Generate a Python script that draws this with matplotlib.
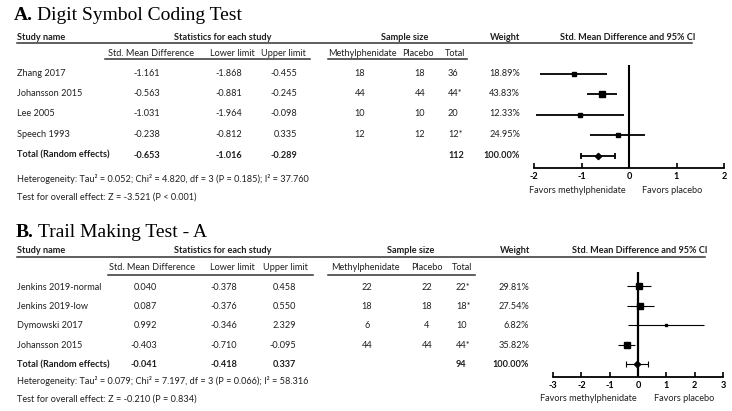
import matplotlib
matplotlib.use("Agg")
import matplotlib.pyplot as plt
import numpy as np

# ---------------- data ----------------
A_title_bold = "A."
A_title = "Digit Symbol Coding Test"
A_studies = ["Zhang 2017", "Johansson 2015", "Lee 2005", "Speech 1993"]
A_smd = [-1.161, -0.563, -1.031, -0.238]
A_lower = [-1.868, -0.881, -1.964, -0.812]
A_upper = [-0.455, -0.245, -0.098, 0.335]
A_methyl = [18, 44, 10, 12]
A_placebo = [18, 44, 10, 12]
A_total = ["36", "44*", "20", "12*"]
A_weight = [18.89, 43.83, 12.33, 24.95]
A_overall = [-0.653, -1.016, -0.289]
A_overall_n = "112"
A_het = "Heterogeneity: Tau\u00b2 = 0.052; Chi\u00b2 = 4.820, df = 3 (P = 0.185); I\u00b2 = 37.760"
A_test = "Test for overall effect: Z = -3.521 (P < 0.001)"
A_ticks = [-2, -1, 0, 1, 2]

B_title_bold = "B."
B_title = "Trail Making Test - A"
B_studies = ["Jenkins 2019-normal", "Jenkins 2019-low", "Dymowski 2017", "Johansson 2015"]
B_smd = [0.040, 0.087, 0.992, -0.403]
B_lower = [-0.378, -0.376, -0.346, -0.710]
B_upper = [0.458, 0.550, 2.329, -0.095]
B_methyl = [22, 18, 6, 44]
B_placebo = [22, 18, 4, 44]
B_total = ["22*", "18*", "10", "44*"]
B_weight = [29.81, 27.54, 6.82, 35.82]
B_overall = [-0.041, -0.418, 0.337]
B_overall_n = "94"
B_het = "Heterogeneity: Tau\u00b2 = 0.079; Chi\u00b2 = 7.197, df = 3 (P = 0.066); I\u00b2 = 58.316"
B_test = "Test for overall effect: Z = -0.210 (P = 0.834)"
B_ticks = [-3, -2, -1, 0, 1, 2, 3]

# ---------------- figure ----------------
W, H = 732, 411
DPI = 100
fig = plt.figure(figsize=(W / DPI, H / DPI), dpi=DPI)
fig.patch.set_facecolor("white")
renderer = fig.canvas.get_renderer()

SANS = ["Lato", "DejaVu Sans"]
SERIF = ["Liberation Serif", "DejaVu Serif"]
FS = 6.6
TXT = "#1f1f1f"


def fx(px):
    return px / W


def fy(py):
    return 1 - py / H


def T(x, y, s, ha="left", bold=False, fs=FS, family=SANS, color=TXT):
    return fig.text(fx(x), fy(y), s, ha=ha, va="center", fontsize=fs,
                    fontweight="bold" if bold else "normal", family=family, color=color)


def hline(x0, x1, y, lw=1.0, color="#333333"):
    fig.add_artist(plt.Line2D([fx(x0), fx(x1)], [fy(y), fy(y)], lw=lw, color=color))


def title(x, y, bold_part, rest):
    t = T(x, y, bold_part, bold=True, fs=14, family=SERIF, color="black")
    bb = t.get_window_extent(renderer)
    T(bb.x1 + 4, y, rest, fs=14, family=SERIF, color="black")


def panel(p):
    title(p["tx"], p["ty"], p["tb"], p["tt"])
    # header row 1
    y1 = p["h1"]
    T(17, y1, "Study name", bold=True)
    T(223, y1, "Statistics for each study", ha="center", bold=True)
    T(p["c_ss"], y1, "Sample size", ha="center", bold=True)
    T(p["c_wh"], y1, "Weight", ha="center", bold=True)
    T(p["c_ci"], y1, "Std. Mean Difference and 95% CI", ha="center", bold=True)
    hline(17, p["line_end"], y1 + 6.5, lw=1.1)
    # header row 2
    y2 = p["h2"]
    T(p["hc"][0], y2, "Std. Mean Difference", ha="center")
    T(p["hc"][1], y2, "Lower limit", ha="center")
    T(p["hc"][2], y2, "Upper limit", ha="center")
    T(p["hc"][3], y2, "Methylphenidate", ha="center")
    T(p["hc"][4], y2, "Placebo", ha="center")
    T(p["hc"][5], y2, "Total", ha="center")
    hline(p["u1"][0], p["u1"][1], y2 + 6.5, lw=1.1)
    hline(p["u2"][0], p["u2"][1], y2 + 6.5, lw=1.1)
    # rows
    cx = p["cols"]
    n = len(p["studies"])
    for i in range(n):
        y = p["r0"] + p["dr"] * i
        T(17, y, p["studies"][i])
        T(cx[0], y, f"{p['smd'][i]:.3f}", ha="right")
        T(cx[1], y, f"{p['lower'][i]:.3f}", ha="right")
        T(cx[2], y, f"{p['upper'][i]:.3f}", ha="right")
        T(cx[3], y, str(p["methyl"][i]), ha="center")
        T(cx[4], y, str(p["placebo"][i]), ha="center")
        T(cx[5], y, p["total"][i], ha="left")
        T(cx[6], y, f"{p['weight'][i]:.2f}%", ha="right")
    y = p["r0"] + p["dr"] * n
    T(17, y, "Total (Random effects)", bold=True)
    T(cx[0], y, f"{p['overall'][0]:.3f}", ha="right", bold=True)
    T(cx[1], y, f"{p['overall'][1]:.3f}", ha="right", bold=True)
    T(cx[2], y, f"{p['overall'][2]:.3f}", ha="right", bold=True)
    T(cx[5], y, p["overall_n"], ha="left", bold=True)
    T(cx[6], y, "100.00%", ha="right", bold=True)
    T(17, p["het_y"], p["het"])
    T(17, p["test_y"], p["test"])

    # forest plot axes
    L, R, top, bot = p["ax_px"]
    ax = fig.add_axes([fx(L), fy(bot), (R - L) / W, (bot - top) / H])
    ax.set_facecolor("none")
    lim = p["ticks"][-1]
    ax.set_xlim(-lim, lim)
    ax.set_ylim((bot - p["fr0"]) / p["fdr"], (top - p["fr0"]) / p["fdr"])
    for s in ["top", "left", "right"]:
        ax.spines[s].set_visible(False)
    ax.spines["bottom"].set_linewidth(1.3)
    ax.set_yticks([])
    ax.set_xticks(p["ticks"])
    ax.set_xticklabels([str(t) for t in p["ticks"]], fontsize=FS, fontweight="bold", family=SANS)
    ax.tick_params(axis="x", direction="in", length=3.5, width=1.2, pad=3)
    ax.axvline(0, color="black", lw=p["zlw"], zorder=1)
    rows = np.arange(n)
    w = np.array(p["weight"])
    ms = p["mscale"] * np.sqrt(w)
    for i in range(n):
        ax.plot([p["lower"][i], p["upper"][i]], [rows[i], rows[i]], color="black",
                lw=p["clw"], solid_capstyle="butt", zorder=2)
        ax.plot(p["smd"][i], rows[i], marker="s", ms=ms[i], color="black", zorder=3)
    ov = p["overall"]
    ax.errorbar([ov[0]], [n], xerr=[[ov[0] - ov[1]], [ov[2] - ov[0]]], fmt="D",
                ms=3.2, color="black", ecolor="black", elinewidth=p["clw"], capsize=2.2,
                capthick=p["clw"], zorder=3)
    T(p["fav"][0], p["fav_y"], "Favors methylphenidate", ha="center")
    T(p["fav"][1], p["fav_y"], "Favors placebo", ha="center")


pA = dict(tx=14, ty=15, tb=A_title_bold, tt=A_title,
          h1=37, h2=53, c_ss=405, c_wh=505, c_ci=628, line_end=692,
          hc=[151, 232, 283, 362, 418, 455], u1=(105, 310), u2=(328, 467),
          cols=[160, 242, 297, 360, 420, 448, 520],
          r0=73, dr=20.5,
          studies=A_studies, smd=A_smd, lower=A_lower, upper=A_upper,
          methyl=A_methyl, placebo=A_placebo, total=A_total, weight=A_weight,
          overall=A_overall, overall_n=A_overall_n,
          het=A_het, test=A_test, het_y=179, test_y=197,
          ax_px=(534, 724, 65, 168), fr0=74, fdr=20.5, ticks=A_ticks,
          zlw=1.5, clw=1.3, mscale=0.62,
          fav=(577, 672), fav_y=190)

pB = dict(tx=16, ty=232, tb=B_title_bold, tt=B_title,
          h1=250, h2=268, c_ss=411, c_wh=515, c_ci=640, line_end=705,
          hc=[152, 232, 285, 365, 427, 462], u1=(108, 313), u2=(328, 475),
          cols=[157, 237, 296, 367, 427, 456, 529],
          r0=287, dr=19.4,
          studies=B_studies, smd=B_smd, lower=B_lower, upper=B_upper,
          methyl=B_methyl, placebo=B_placebo, total=B_total, weight=B_weight,
          overall=B_overall, overall_n=B_overall_n,
          het=B_het, test=B_test, het_y=381, test_y=399,
          ax_px=(553, 723, 272, 377), fr0=286, fdr=19.5, ticks=B_ticks,
          zlw=1.6, clw=0.8, mscale=0.72,
          fav=(588, 684), fav_y=398)

panel(pA)
panel(pB)

fig.savefig("out.png", dpi=DPI, facecolor="white")
